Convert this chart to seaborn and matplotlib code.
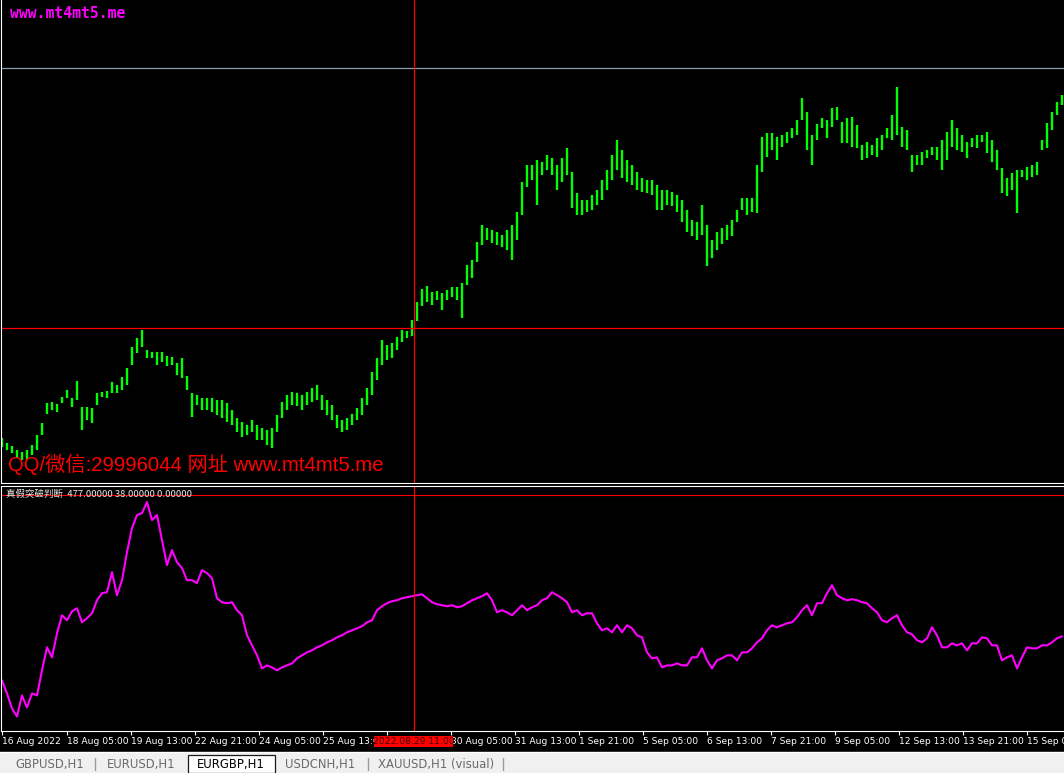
import numpy as np
import pandas as pd
import matplotlib
matplotlib.use("Agg")
import matplotlib.pyplot as plt
import seaborn as sns
from matplotlib.patches import Rectangle
from matplotlib.lines import Line2D

# ---------------- data (EURGBP H1, sampled every 2.5 hours) ----------------
high_pts = [
    8412, 8407, 8404, 8400, 8398, 8400, 8405, 8415, 8427, 8447,
    8448, 8446, 8453, 8460, 8452, 8469, 8443, 8443, 8442, 8457,
    8458, 8459, 8468, 8465, 8473, 8482, 8503, 8512, 8520, 8500,
    8498, 8498, 8498, 8494, 8493, 8487, 8492, 8474, 8457, 8455,
    8452, 8452, 8452, 8450, 8450, 8447, 8440, 8432, 8428, 8425,
    8430, 8425, 8422, 8420, 8422, 8435, 8448, 8455, 8458, 8457,
    8455, 8458, 8462, 8465, 8455, 8450, 8445, 8435, 8430, 8432,
    8436, 8442, 8452, 8462, 8478, 8492, 8510, 8505, 8507, 8513,
    8520, 8519, 8530, 8548, 8561, 8564, 8558, 8559, 8557, 8560,
    8563, 8563, 8567, 8585, 8590, 8608, 8625, 8622, 8620, 8618,
    8615, 8620, 8625, 8638, 8668, 8685, 8685, 8690, 8688, 8695,
    8692, 8685, 8692, 8702, 8678, 8657, 8650, 8650, 8655, 8660,
    8670, 8680, 8695, 8710, 8700, 8690, 8685, 8678, 8672, 8670,
    8670, 8665, 8660, 8660, 8658, 8655, 8650, 8640, 8630, 8628,
    8645, 8625, 8610, 8618, 8622, 8625, 8630, 8640, 8652, 8652,
    8652, 8685, 8713, 8717, 8717, 8713, 8715, 8718, 8722, 8730,
    8752, 8738, 8715, 8726, 8732, 8730, 8742, 8743, 8728, 8732,
    8733, 8725, 8705, 8708, 8705, 8712, 8715, 8722, 8735, 8763,
    8723, 8720, 8695, 8695, 8698, 8700, 8703, 8703, 8710, 8718,
    8730, 8722, 8715, 8708, 8712, 8715, 8715, 8718, 8710, 8700,
    8682, 8672, 8677, 8680, 8680, 8683, 8685, 8688, 8710, 8727,
    8738, 8748, 8755,
]
low_pts = [
    8403, 8400, 8397, 8392, 8390, 8390, 8395, 8400, 8415, 8436,
    8440, 8438, 8447, 8452, 8443, 8450, 8420, 8430, 8427, 8445,
    8453, 8452, 8457, 8457, 8460, 8465, 8485, 8497, 8503, 8492,
    8492, 8485, 8488, 8484, 8485, 8475, 8472, 8460, 8433, 8445,
    8440, 8440, 8438, 8435, 8432, 8428, 8425, 8418, 8413, 8415,
    8418, 8410, 8410, 8405, 8402, 8418, 8432, 8440, 8445, 8444,
    8440, 8445, 8448, 8450, 8440, 8435, 8430, 8422, 8418, 8420,
    8425, 8430, 8435, 8445, 8455, 8470, 8485, 8490, 8492, 8500,
    8508, 8512, 8514, 8529, 8544, 8548, 8545, 8550, 8540, 8550,
    8553, 8550, 8532, 8565, 8572, 8588, 8605, 8610, 8607, 8605,
    8603, 8600, 8590, 8610, 8635, 8663, 8670, 8645, 8675, 8680,
    8675, 8660, 8668, 8675, 8642, 8635, 8635, 8638, 8640, 8645,
    8650, 8660, 8670, 8680, 8672, 8668, 8665, 8660, 8658, 8657,
    8655, 8640, 8640, 8645, 8644, 8638, 8628, 8618, 8614, 8610,
    8615, 8584, 8592, 8600, 8606, 8610, 8614, 8628, 8640, 8635,
    8638, 8637, 8678, 8693, 8700, 8690, 8703, 8707, 8712, 8715,
    8730, 8700, 8685, 8710, 8722, 8712, 8723, 8730, 8707, 8707,
    8703, 8702, 8690, 8692, 8695, 8693, 8700, 8712, 8710, 8715,
    8703, 8700, 8678, 8685, 8685, 8692, 8695, 8690, 8680, 8690,
    8703, 8700, 8698, 8692, 8703, 8702, 8708, 8697, 8688, 8680,
    8657, 8654, 8660, 8637, 8673, 8670, 8673, 8675, 8700, 8702,
    8720, 8735, 8745,
]
indicator = [
    50, 37, 22, 14, 35, 23, 37, 35, 60, 83,
    73, 97, 115, 110, 119, 122, 108, 112, 117, 130,
    137, 138, 158, 135, 150, 178, 202, 215, 217, 228,
    210, 215, 190, 165, 180, 168, 162, 150, 150, 147,
    160, 157, 152, 132, 128, 127, 128, 120, 115, 95,
    85, 75, 62, 65, 63, 60, 63, 65, 67, 72,
    75, 78, 80, 83, 85, 88, 90, 93, 95, 98,
    100, 102, 104, 108, 110, 120, 124, 127, 129, 130,
    132, 133, 134, 135, 136, 132, 128, 126, 125, 124,
    125, 123, 124, 127, 130, 132, 134, 137, 130, 118,
    120, 118, 115, 120, 125, 120, 123, 125, 130, 132,
    138, 135, 132, 128, 118, 120, 115, 117, 117, 107,
    100, 102, 98, 105, 98, 105, 102, 95, 93, 78,
    72, 73, 63, 65, 65, 67, 65, 65, 73, 73,
    82, 70, 62, 70, 72, 75, 75, 70, 78, 78,
    82, 88, 92, 100, 105, 103, 105, 107, 108, 113,
    120, 125, 115, 127, 127, 137, 145, 135, 132, 130,
    131, 130, 128, 127, 122, 118, 110, 108, 112, 115,
    105, 98, 96, 90, 88, 92, 103, 95, 83, 83,
    87, 85, 87, 80, 87, 87, 93, 92, 85, 85,
    70, 73, 75, 62, 73, 83, 82, 82, 85, 85,
    88, 92, 94,
]
hours_per_sample = 2.5
# the "26 Aug 21:00" label is hidden behind the crosshair date box in the reference
tick_labels = ["16 Aug 2022", "18 Aug 05:00", "19 Aug 13:00", "22 Aug 21:00",
               "24 Aug 05:00", "25 Aug 13:00", "", "30 Aug 05:00",
               "31 Aug 13:00", "1 Sep 21:00", "5 Sep 05:00", "6 Sep 13:00",
               "7 Sep 21:00", "9 Sep 05:00", "12 Sep 13:00", "13 Sep 21:00",
               "15 Sep 05:00"]
tick_hours = [0, 32.25, 64.25, 96.25, 128.25, 160.25, 192.25, 224.25, 256.25,
              288.25, 320.25, 352.25, 384.25, 416.25, 448.25, 480.25, 512.25]
cross_hour = 206
cross_label = "2022.08.29 11:00"
cross_price = 0.8522
grey_level = 0.8782
ind_level = 235
ind_title = "真假突破判断  477.00000 38.00000 0.00000"
tabs = ["GBPUSD,H1", "EURUSD,H1", "EURGBP,H1", "USDCNH,H1", "XAUUSD,H1 (visual)"]
active_tab = "EURGBP,H1"

# ---------------- figure ----------------
sns.set_theme(style="dark")
plt.rcParams['font.family'] = ['DejaVu Sans', 'Noto Sans CJK SC']

W, H = 1064, 773
fig = plt.figure(figsize=(W / 100, H / 100), dpi=100, facecolor='black')


def fx(x):
    return x / W


def fy(y):
    return 1 - y / H


ax = fig.add_axes([fx(1), fy(482.5), fx(1064) - fx(1), 482.5 / H])
ind = fig.add_axes([fx(1), fy(730.5), fx(1064) - fx(1), (730.5 - 486) / H])

df = pd.DataFrame({
    "idx": np.arange(len(high_pts)),
    "high": np.array(high_pts) / 10000.0,
    "low": np.array(low_pts) / 10000.0,
    "ind": indicator,
})

xlim = (-0.2, 212.4)
for a in (ax, ind):
    a.set_facecolor('black')
    a.grid(False)
    a.set_xlim(*xlim)
    for s in a.spines.values():
        s.set_color('white')
        s.set_linewidth(0.8)
    a.spines['right'].set_visible(False)

ax.spines['top'].set_visible(False)
ax.set_ylim(0.8368, 0.8850)
ax.set_xticks([])
ax.set_yticks([])

# price bars
ax.vlines(df["idx"], df["low"], df["high"], color='#00ff00', lw=1.7)
ax.axhline(grey_level, color='#8a9ab0', lw=0.9)
cross_idx = cross_hour / hours_per_sample
ax.axhline(cross_price, color='#ff0000', lw=0.9)
ax.axvline(cross_idx, color='#ff0000', lw=0.9)

# indicator
sns.lineplot(data=df, x="idx", y="ind", ax=ind, color='#ff00ff', lw=1.5)
ind.set_ylim(0, 244)
ind.set_xlabel('')
ind.set_ylabel('')
ind.set_yticks([])
ind.axhline(ind_level, color='#ff0000', lw=0.8)
ind.axvline(cross_idx, color='#ff0000', lw=0.9)
ind.set_xlim(*xlim)

ind.set_xticks([h / hours_per_sample for h in tick_hours])
ind.set_xticklabels(tick_labels)
ind.tick_params(axis='x', colors='white', labelcolor='white', direction='out',
                length=3, width=0.8, pad=1.5, labelsize=6.6, bottom=True)
for lbl in ind.get_xticklabels():
    lbl.set_ha('left')

# crosshair time label
fig.add_artist(Rectangle((fx(374), fy(746.5)), fx(453) - fx(374), 10.5 / H,
                         transform=fig.transFigure, facecolor='#ff0000',
                         edgecolor='none', zorder=10))
fig.text(fx(413.5), fy(741.3), cross_label, color='#3c0000', fontsize=6.6,
         ha='center', va='center', zorder=11)

# texts
fig.text(fx(10), fy(14), "www.mt4mt5.me", color='#ff00ff', fontsize=10.6,
         family='DejaVu Sans Mono', weight='bold', va='center')
fig.text(fx(8), fy(464), "QQ/微信:29996044 网址 www.mt4mt5.me", color='#ff0000',
         fontsize=14.6, family=['Liberation Sans', 'Noto Sans CJK SC'], va='center')
fig.text(fx(6), fy(494), ind_title, color='#e8e8e8', fontsize=6.8,
         family=['Noto Sans CJK SC', 'DejaVu Sans'], va='center', zorder=5)

# bottom tab bar
fig.add_artist(Line2D([0, 1], [fy(751.5), fy(751.5)], transform=fig.transFigure,
                      color='white', lw=1))
fig.add_artist(Rectangle((0, 0), 1, fy(753), transform=fig.transFigure,
                         facecolor='#f0f0f0', edgecolor='none'))
fig.add_artist(Rectangle((fx(187.5), 0), fx(274.5) - fx(187.5), fy(754.5),
                         transform=fig.transFigure, facecolor='white',
                         edgecolor='#1a1a1a', lw=0.9))
for sx in (95, 368, 503):
    fig.add_artist(Line2D([fx(sx), fx(sx)], [fy(758), fy(770)],
                          transform=fig.transFigure, color='#9a9a9a', lw=1))
tab_x = [15, 107, 197, 285, 378]
for t, x in zip(tabs, tab_x):
    fig.text(fx(x), fy(764.5), t, color='black' if t == active_tab else '#6b6b6b',
             fontsize=8.4, va='center')

fig.savefig('out.png', dpi=100, facecolor='black')
